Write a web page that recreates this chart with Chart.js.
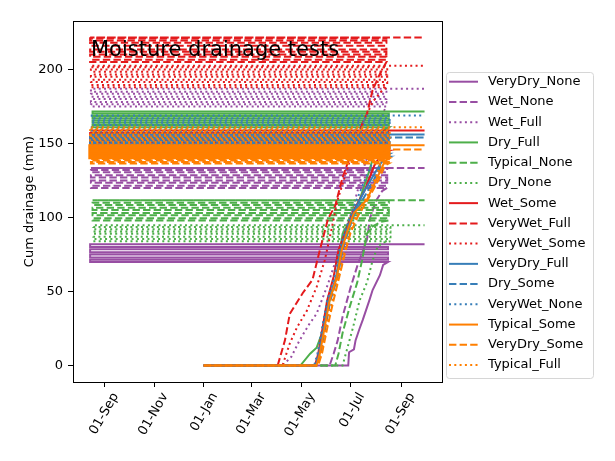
<!DOCTYPE html>
<html>
<head>
<meta charset="utf-8">
<script src="https://cdn.jsdelivr.net/npm/chart.js@4.4.0/dist/chart.umd.min.js"></script>
<style>
  html, body { margin: 0; background: #fff; }
</style>
</head>
<body>
<canvas id="chart" width="615" height="461"></canvas>
<script>
// ---------- data (x = days counted from 01-Sep of the first season) ----------
const seriesNames = ['VeryDry_None', 'Wet_None', 'Wet_Full', 'Dry_Full', 'Typical_None', 'Dry_None',
                     'Wet_Some', 'VeryWet_Full', 'VeryWet_Some', 'VeryDry_Full', 'Dry_Some', 'VeryWet_None',
                     'Typical_Some', 'VeryDry_Some', 'Typical_Full'];

const tickDays   = [0, 61, 122, 181, 242, 303, 365];
const tickLabels = ['01-Sep', '01-Nov', '01-Jan', '01-Mar', '01-May', '01-Jul', '01-Sep'];
const yTicks     = [0, 50, 100, 150, 200];

// rising part of each cumulative curve
const rampDays = [
  [122, 300, 301, 307, 309, 314, 318, 326, 330, 339, 343],
  [122, 277, 282, 287, 293, 303, 311, 323, 327, 335, 342],
  [122, 219, 230, 240, 252, 261, 275, 290, 305, 320, 335, 344],
  [122, 241, 253, 261, 269, 277, 286, 290, 293, 302, 314, 325, 335, 343],
  [122, 284, 288, 293, 302, 311, 317, 323, 330, 340],
  [122, 293, 299, 306, 314, 323, 330, 336, 342],
  [122, 259, 263, 268, 274, 282, 288, 297, 305, 320, 332, 342],
  [122, 213, 222, 228, 244, 256, 265, 275, 284, 293, 302, 312, 323, 330, 339],
  [122, 219, 228, 237, 249, 261, 271, 279, 287, 300, 315, 330, 342],
  [122, 260, 264, 270, 276, 285, 291, 298, 306, 320, 335, 344],
  [122, 262, 266, 272, 278, 287, 293, 300, 308, 322, 336, 344],
  [122, 258, 262, 268, 274, 283, 289, 296, 304, 318, 332, 344],
  [122, 261, 265, 271, 277, 286, 292, 299, 307, 323, 335, 345],
  [122, 263, 268, 274, 281, 289, 296, 303, 312, 325, 337, 345],
  [122, 262, 267, 273, 280, 288, 295, 302, 310, 324, 336, 345]
];
const rampMm = [
  [0, 0, 9, 11, 17, 25, 31, 44, 51, 61, 68],
  [0, 0, 8, 17, 33, 53, 67, 85, 100, 112, 118],
  [0, 0, 6, 17, 28, 35, 55, 80, 105, 135, 160, 172],
  [0, 0, 8, 12, 24, 44, 60, 78, 89, 98, 112, 130, 148, 159],
  [0, 0, 8, 22, 40, 56, 71, 89, 94, 97],
  [0, 0, 12, 26, 44, 56, 71, 80, 83],
  [0, 0, 8, 24, 44, 60, 78, 91, 103, 118, 135, 144],
  [0, 0, 17, 35, 49, 58, 78, 99, 108, 127, 141, 157, 170, 186, 197],
  [0, 0, 15, 26, 37, 53, 71, 91, 112, 135, 160, 178, 186],
  [0, 0, 8, 26, 44, 60, 78, 91, 103, 118, 132, 140],
  [0, 0, 8, 26, 44, 60, 78, 91, 103, 116, 130, 141],
  [0, 0, 8, 26, 44, 60, 78, 91, 103, 122, 140, 156],
  [0, 0, 8, 26, 44, 60, 78, 91, 103, 112, 126, 138],
  [0, 0, 9, 25, 42, 60, 76, 90, 101, 113, 125, 135],
  [0, 0, 8, 25, 43, 60, 77, 90, 102, 115, 130, 146]
];

// late-season readings that run back across the season
const levelsMm = [
  [70, 71.5, 73, 75, 76.5, 78.5, 80, 82],
  [120, 121.5, 123.5, 125, 127, 128.5, 130.5, 132, 133.5],
  [175, 176.5, 178, 180, 181.5, 183.5, 185, 187],
  [161, 162.5, 164, 165.5, 167, 168.5, 170, 171.5],
  [98, 99.5, 101.5, 103, 105, 106.5, 108.5, 110, 111.7],
  [84, 85.5, 87, 89, 90.5, 92, 93.5, 94.8],
  [145, 146.5, 148, 149, 150.5, 152, 153, 154.5, 156, 157, 158.8],
  [205, 206.5, 208.5, 210, 212, 213.5, 216, 218, 219.5, 221, 221.6],
  [188, 189.5, 191.5, 193, 195, 196.5, 198.5, 200, 201.5, 202.5],
  [141, 142.5, 144, 145, 146.5, 148, 149.5, 151.5, 153, 154.5, 156],
  [143, 144.5, 146, 147, 148.5, 150, 151, 152.5, 154],
  [158, 159.5, 161, 162.5, 164, 165.5, 167, 168.8],
  [140, 141, 142, 143, 144, 145, 146, 147, 148, 148.8],
  [136.5, 137.5, 138.5, 139.5, 140.5, 141.5, 143, 144.5, 146],
  [148, 149, 150, 151, 152, 153, 154, 155, 156, 157, 158, 159, 160, 161]
];
const levelFrom = [-18, -17, -17, -15, -15, -14, -18, -18, -17, -18, -17, -16, -19, -17, -18];
const levelTo   = [349, 348, 347, 350, 350, 352, 349, 347, 348, 350, 351, 351, 351, 350, 351];
const lastDay   = 394;

// ---------- styles ----------
const colors = ['#984ea3', '#984ea3', '#984ea3', '#4daf4a', '#4daf4a', '#4daf4a',
                '#e41a1c', '#e41a1c', '#e41a1c', '#377eb8', '#377eb8', '#377eb8',
                '#ff7f00', '#ff7f00', '#ff7f00'];
const dashes = [[], [7.4, 3.2], [2, 3.3]];
const FONT = 'DejaVu Sans';

function buildPoints (i) {
  const pts = rampDays[i].map((d, k) => ({ x: d, y: rampMm[i][k] }));
  levelsMm[i].forEach((v, k) => {
    const ends = k % 2 === 0 ? [levelTo[i], levelFrom[i]] : [levelFrom[i], levelTo[i]];
    pts.push({ x: ends[0], y: v }, { x: ends[1], y: v });
  });
  pts.push({ x: lastDay, y: levelsMm[i][levelsMm[i].length - 1] });
  return pts;
}

const datasets = seriesNames.map((name, i) => ({
  label: name,
  data: buildPoints(i),
  borderColor: colors[i],
  borderWidth: 2,
  borderDash: dashes[i % 3],
  pointRadius: 0,
  tension: 0,
  fill: false,
  order: seriesNames.length - i      // later series on top, like the original
}));

// frame + in-axes title
const framePlugin = {
  id: 'frame',
  afterDatasetsDraw (chart) {
    const { ctx, chartArea: a } = chart;
    ctx.save();
    ctx.fillStyle = '#000';
    ctx.font = '21px "' + FONT + '"';
    ctx.textBaseline = 'alphabetic';
    ctx.fillText('Moisture drainage tests', 91, 56);
    ctx.strokeStyle = '#000';
    ctx.lineWidth = 1;
    ctx.strokeRect(Math.round(a.left) + 0.5, Math.round(a.top) + 0.5,
                   Math.round(a.right - a.left), Math.round(a.bottom - a.top));
    ctx.restore();
  }
};

// legend outside the axes on the right
const legendPlugin = {
  id: 'sideLegend',
  afterDraw (chart) {
    const { ctx } = chart;
    const x0 = 446.5, y0 = 72.5, w = 147, h = 306, r = 3;
    ctx.save();
    ctx.beginPath();
    ctx.moveTo(x0 + r, y0);
    ctx.arcTo(x0 + w, y0, x0 + w, y0 + h, r);
    ctx.arcTo(x0 + w, y0 + h, x0, y0 + h, r);
    ctx.arcTo(x0, y0 + h, x0, y0, r);
    ctx.arcTo(x0, y0, x0 + w, y0, r);
    ctx.closePath();
    ctx.fillStyle = 'rgba(255,255,255,0.8)';
    ctx.fill();
    ctx.strokeStyle = '#d6d6d6';
    ctx.lineWidth = 1;
    ctx.stroke();

    ctx.font = '13px "' + FONT + '"';
    ctx.textBaseline = 'middle';
    chart.data.datasets.forEach((ds, k) => {
      const y = 81.7 + k * 20.24;
      ctx.beginPath();
      ctx.setLineDash(ds.borderDash);
      ctx.strokeStyle = ds.borderColor;
      ctx.lineWidth = 2;
      ctx.moveTo(449, y);
      ctx.lineTo(478, y);
      ctx.stroke();
      ctx.setLineDash([]);
      ctx.fillStyle = '#000';
      ctx.fillText(ds.label, 488, y);
    });
    ctx.restore();
  }
};

new Chart(document.getElementById('chart'), {
  type: 'line',
  data: { datasets },
  options: {
    responsive: false,
    animation: false,
    devicePixelRatio: 1,
    layout: { padding: { top: 21, right: 173, bottom: 0, left: 0 } },
    plugins: { legend: { display: false }, tooltip: { enabled: false } },
    scales: {
      x: {
        type: 'linear',
        min: -39.1,
        max: 415.5,
        afterBuildTicks: s => { s.ticks = tickDays.map(v => ({ value: v })); },
        afterFit: s => { s.height = 79; },
        border: { display: false },
        grid: { drawOnChartArea: false, tickLength: 5, tickColor: '#000' },
        ticks: {
          autoSkip: false,
          minRotation: 60,
          maxRotation: 60,
          labelOffset: 11,
          padding: 3,
          color: '#000',
          font: { family: FONT, size: 13 },
          callback: (v, i) => tickLabels[i]
        }
      },
      y: {
        type: 'linear',
        min: -11.1,
        max: 232.7,
        afterBuildTicks: s => { s.ticks = yTicks.map(v => ({ value: v })); },
        afterFit: s => { s.width = 73; },
        border: { display: false },
        grid: { drawOnChartArea: false, tickLength: 5, tickColor: '#000' },
        ticks: { padding: 5, color: '#000', font: { family: FONT, size: 13 } },
        title: {
          display: true,
          text: 'Cum drainage (mm)',
          color: '#000',
          padding: { top: 22, bottom: 0 },
          font: { family: FONT, size: 13 }
        }
      }
    }
  },
  plugins: [framePlugin, legendPlugin]
});
</script>
</body>
</html>
